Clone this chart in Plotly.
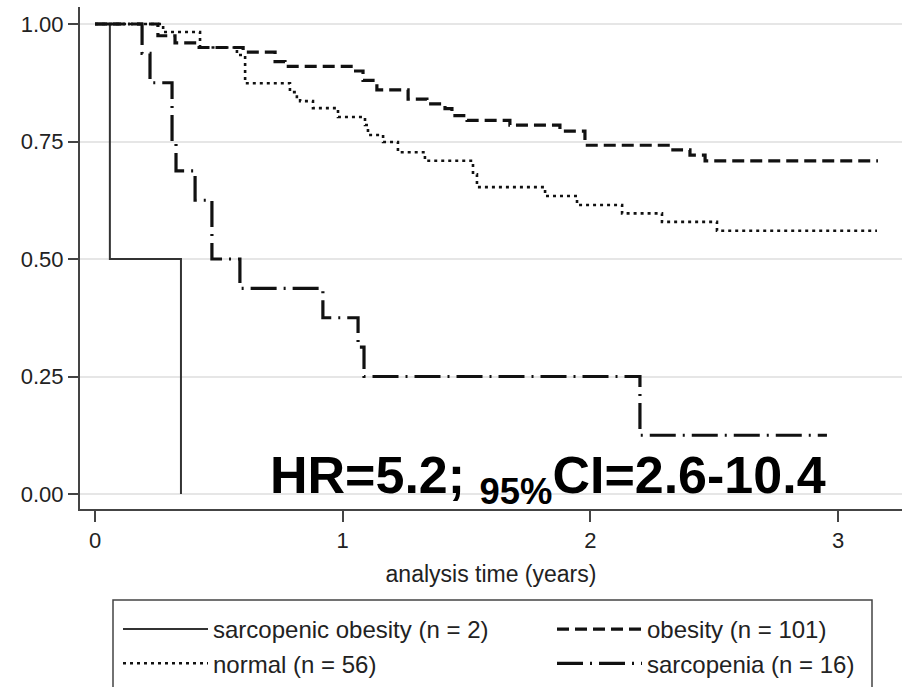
import plotly.graph_objects as go

# ---------------- data ----------------
so_t = [0, 0.06, 0.347]
so_s = [1.0, 0.5, 0.0]

ob_t = [0, 0.254, 0.323, 0.412, 0.598, 0.727, 0.767, 1.042, 1.082, 1.138, 1.264,
        1.34, 1.413, 1.441, 1.502, 1.675, 1.877, 1.978, 2.333, 2.402, 2.463, 3.161]
ob_s = [1.0, 0.975, 0.96, 0.95, 0.94, 0.92, 0.91, 0.90, 0.88, 0.86, 0.84,
        0.83, 0.82, 0.805, 0.795, 0.785, 0.772, 0.742, 0.732, 0.721, 0.709, 0.709]

no_t = [0, 0.275, 0.424, 0.573, 0.606, 0.787, 0.815, 0.828, 0.88, 0.981, 1.09,
        1.102, 1.163, 1.223, 1.332, 1.526, 1.542, 1.817, 1.946, 2.128, 2.289, 2.511, 3.157]
no_s = [1.0, 0.983, 0.95, 0.934, 0.874, 0.855, 0.845, 0.836, 0.821, 0.802, 0.785,
        0.764, 0.749, 0.727, 0.709, 0.68, 0.653, 0.634, 0.615, 0.597, 0.579, 0.56, 0.56]

sa_t = [0, 0.19, 0.222, 0.311, 0.327, 0.404, 0.472, 0.585, 0.920, 1.062, 1.086, 2.200, 2.955]
sa_s = [1.0, 0.9375, 0.875, 0.75, 0.6875, 0.625, 0.5, 0.4375, 0.375, 0.3125, 0.25, 0.125, 0.125]

names = ["sarcopenic obesity (n = 2)", "obesity (n = 101)",
         "normal (n = 56)", "sarcopenia (n = 16)"]
x_ticks = [0, 1, 2, 3]
y_ticks = [0, 0.25, 0.5, 0.75, 1.0]
x_title = "analysis time (years)"
hr_text = "<b>HR=5.2; <sub>95%</sub>CI=2.6-10.4</b>"

FONT = "Liberation Sans, Arial, Helvetica, sans-serif"

fig = go.Figure()
fig.add_trace(go.Scatter(x=so_t, y=so_s, mode="lines", line_shape="hv", name=names[0],
                         line=dict(color="#333333", width=2, dash="solid"), legend="legend"))
fig.add_trace(go.Scatter(x=ob_t, y=ob_s, mode="lines", line_shape="hv", name=names[1],
                         line=dict(color="#111111", width=3.2, dash="12px,6px"), legend="legend2"))
fig.add_trace(go.Scatter(x=no_t, y=no_s, mode="lines", line_shape="hv", name=names[2],
                         line=dict(color="#111111", width=2.6, dash="3px,4px"), legend="legend"))
fig.add_trace(go.Scatter(x=sa_t, y=sa_s, mode="lines", line_shape="hv", name=names[3],
                         line=dict(color="#111111", width=3.2, dash="26px,7px,2px,7px"), legend="legend2"))

W, H = 906, 687
ML, MR, MT, MB = 80, 4, 7, 178
pw, ph = W - ML - MR, H - MT - MB


def px2paper_x(px):
    return (px - ML) / pw


def px2paper_y(py):
    return (H - MB - py) / ph


leg_common = dict(orientation="v", xanchor="left", yanchor="top", bgcolor="rgba(0,0,0,0)",
                  borderwidth=0, itemwidth=85, tracegroupgap=0,
                  font=dict(family=FONT, size=24, color="#222222"))

fig.update_layout(
    width=W, height=H,
    margin=dict(l=ML, r=MR, t=MT, b=MB, autoexpand=False),
    paper_bgcolor="white", plot_bgcolor="white",
    font=dict(family=FONT, color="#222222"),
    xaxis=dict(range=[-0.0606, 3.258], tickvals=x_ticks, ticks="outside", ticklen=11,
               tickwidth=1.5, tickcolor="#444444", showgrid=False, zeroline=False,
               showline=True, linecolor="#444444", linewidth=2,
               tickfont=dict(family=FONT, size=22, color="#222222"),
               title=dict(text=x_title, font=dict(family=FONT, size=23, color="#222222"),
                          standoff=13)),
    yaxis=dict(range=[-0.0319, 1.0362], tickvals=y_ticks, tickformat=".2f", ticks="outside",
               ticklen=10, tickwidth=1.5, tickcolor="#444444", showgrid=True,
               gridcolor="#e6e6e6", gridwidth=1.5, zeroline=False, showline=True,
               linecolor="#444444", linewidth=2,
               tickfont=dict(family=FONT, size=22, color="#222222")),
    legend=dict(x=px2paper_x(118), y=px2paper_y(607), **leg_common),
    legend2=dict(x=px2paper_x(552), y=px2paper_y(607), **leg_common),
    showlegend=True,
)

# legend frame
fig.add_shape(type="rect", xref="paper", yref="paper",
              x0=px2paper_x(113), x1=px2paper_x(872), y0=px2paper_y(720), y1=px2paper_y(600),
              line=dict(color="#444444", width=1.5), fillcolor="rgba(0,0,0,0)", layer="below")

fig.add_annotation(x=0.698, y=0.0, xref="x", yref="y", xanchor="left", yanchor="bottom",
                   yshift=-20, text=hr_text, showarrow=False,
                   font=dict(family=FONT, size=52, color="#000000"))

fig.write_html("out.html")
